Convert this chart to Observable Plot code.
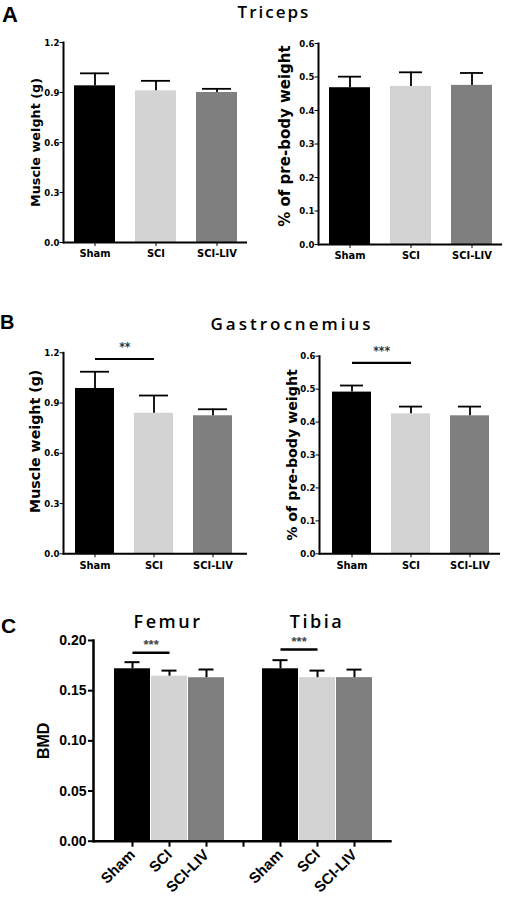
<!DOCTYPE html>
<html>
<head>
<meta charset="utf-8">
<script src="https://cdn.jsdelivr.net/npm/d3@7"></script>
<script src="https://cdn.jsdelivr.net/npm/@observablehq/plot@0.6"></script>
<style>
  html, body { margin: 0; padding: 0; background: #fff; }
  #root { position: relative; width: 506px; height: 899px; overflow: hidden; background: #fff; }
  .pos { position: absolute; }
  .letter { font-family: "Liberation Sans", Arial, sans-serif; font-weight: bold; line-height: 1; color: #000; }
  .title { font-family: "Open Sans", sans-serif; font-weight: 600; font-size: 17px; line-height: 1; letter-spacing: 2.5px; text-align: center; color: #000; white-space: nowrap; }
</style>
</head>
<body>
<div id="root"></div>
<script>
// ---------- data ----------
const categories = ["Sham", "SCI", "SCI-LIV"];
const barColors = ["#000000", "#d3d3d3", "#7f7f7f"];

const tricepsWeight = [0.94, 0.91, 0.90];
const tricepsWeightSem = [0.075, 0.06, 0.022];
const tricepsPct = [0.468, 0.472, 0.475];
const tricepsPctSem = [0.033, 0.042, 0.037];

const gastroWeight = [0.987, 0.839, 0.824];
const gastroWeightSem = [0.10, 0.106, 0.039];
const gastroPct = [0.491, 0.425, 0.419];
const gastroPctSem = [0.020, 0.022, 0.028];

const bones = ["Femur", "Tibia"];
const femurBMD = [0.1718, 0.1645, 0.1629];
const femurBMDSem = [0.0066, 0.0055, 0.0082];
const tibiaBMD = [0.1718, 0.163, 0.163];
const tibiaBMDSem = [0.0086, 0.007, 0.008];

const weightTicks = [0, 0.3, 0.6, 0.9, 1.2];
const pctTicks = [0, 0.1, 0.2, 0.3, 0.4, 0.5, 0.6];
const bmdTicks = [0, 0.05, 0.10, 0.15, 0.20];

const gastroWeightSig = [{from: "Sham", to: "SCI", y: 1.163, text: "**"}];
const gastroPctSig = [{from: "Sham", to: "SCI", y: 0.58, text: "***"}];
const femurSig = {from: "Sham", to: "SCI", y: 0.1878, text: "***"};
const tibiaSig = {from: "Sham", to: "SCI", y: 0.191, text: "***"};

// ---------- layout ----------
const root = document.getElementById("root");
const narrow = "'Liberation Sans Narrow', 'Arial Narrow', 'DejaVu Sans Condensed', sans-serif";
const arial = "'Liberation Sans', Arial, sans-serif";
const wide = "'DejaVu Sans', Verdana, sans-serif";

function addDiv(cls, text, style) {
  const d = document.createElement("div");
  d.className = "pos " + cls;
  d.textContent = text;
  Object.assign(d.style, style);
  root.appendChild(d);
}

function place(node, left, top) {
  node.style.position = "absolute";
  node.style.left = left + "px";
  node.style.top = top + "px";
  root.appendChild(node);
}

function musclePlot(cfg) {
  const data = categories.map((c, i) => ({c, v: cfg.values[i], e: cfg.values[i] + cfg.sems[i], color: barColors[i]}));
  const innerW = cfg.width - cfg.mL - cfg.mR;
  const step = innerW / (categories.length - cfg.pi + 2 * cfg.po);
  const marks = [
    Plot.barY(data, {x: "c", y: "v", fill: "color"}),
    Plot.ruleX(data, {x: "c", y1: "v", y2: "e", stroke: "#000", strokeWidth: 1.8}),
    Plot.tickY(data, {x: "c", y: "e", stroke: "#000", strokeWidth: 1.8, insetLeft: cfg.capInset, insetRight: cfg.capInset}),
    Plot.ruleY([0], {stroke: "#000", strokeWidth: 2}),
    Plot.frame({anchor: "left", stroke: "#000", strokeWidth: 2}),
    Plot.axisY({ticks: cfg.ticks, tickFormat: d3.format(".1f"), tickSize: 3.5, tickPadding: 0.5, fontSize: 9.5, fontWeight: "bold", fontFamily: narrow, label: null}),
    Plot.axisX({tickSize: 4, tickPadding: 3, fontSize: 11, fontWeight: "bold", fontFamily: narrow, label: null}),
    Plot.text([cfg.label], {frameAnchor: "left", textAnchor: "middle", lineAnchor: "middle", text: d => d, rotate: -90,
      dx: cfg.labelDx, dy: cfg.labelDy, fontSize: cfg.labelSize, fontWeight: "bold", fontFamily: wide, fill: "#000"})
  ];
  if (cfg.sig) {
    marks.push(Plot.link(cfg.sig, {x1: "from", x2: "to", y1: "y", y2: "y", stroke: "#000", strokeWidth: 2.2}));
    marks.push(Plot.text(cfg.sig, {x: "from", y: "y", text: "text", dx: step / 2, dy: -12, fontSize: 12, fontWeight: "bold", fontFamily: narrow, fill: "#333"}));
  }
  return Plot.plot({
    width: cfg.width, height: cfg.height,
    marginLeft: cfg.mL, marginRight: cfg.mR, marginTop: cfg.mT, marginBottom: cfg.mB,
    style: {background: "transparent", color: "#000", overflow: "visible"},
    x: {type: "band", domain: categories, paddingInner: cfg.pi, paddingOuter: cfg.po, align: cfg.align, axis: null},
    y: {domain: [0, cfg.max], axis: null},
    marks
  });
}

const musclePanels = [
  {left: 0, top: 30, width: 250, height: 250, mL: 63, mR: 3, mT: 12, mB: 38, values: tricepsWeight, sems: tricepsWeightSem,
   ticks: weightTicks, max: 1.2, label: "Muscle weight (g)", labelSize: 12.8, labelDx: -28, labelDy: 0, pi: 0.33, po: 0.165, align: 0.5, capInset: 6},
  {left: 250, top: 30, width: 256, height: 250, mL: 68, mR: 4, mT: 13, mB: 36, values: tricepsPct, sems: tricepsPctSem,
   ticks: pctTicks, max: 0.6, label: "% of pre-body weight", labelSize: 15, labelDx: -33, labelDy: -8, pi: 0.33, po: 0.165, align: 0.5, capInset: 9},
  {left: 0, top: 330, width: 250, height: 250, mL: 63, mR: 3, mT: 22.3, mB: 26.7, values: gastroWeight, sems: gastroWeightSem,
   ticks: weightTicks, max: 1.2, label: "Muscle weight (g)", labelSize: 14.2, labelDx: -28, labelDy: -12, pi: 0.34, po: 0.215, align: 0.43, capInset: 5, sig: gastroWeightSig},
  {left: 250, top: 330, width: 256, height: 250, mL: 69, mR: 6, mT: 25.7, mB: 26.7, values: gastroPct, sems: gastroPctSem,
   ticks: pctTicks, max: 0.6, label: "% of pre-body weight", labelSize: 14.2, labelDx: -27, labelDy: 0, pi: 0.337, po: 0.196, align: 0.55, capInset: 8, sig: gastroPctSig}
];

for (const cfg of musclePanels) place(musclePlot(cfg), cfg.left, cfg.top);

// ---------- panel C ----------
const gapKey = "gap";
const cDomain = [...categories.map(c => bones[0] + "|" + c), gapKey, ...categories.map(c => bones[1] + "|" + c)];
const bmdValues = [femurBMD, tibiaBMD];
const bmdSems = [femurBMDSem, tibiaBMDSem];
const cData = bones.flatMap((b, j) => categories.map((c, i) => ({
  key: b + "|" + c, v: bmdValues[j][i], e: bmdValues[j][i] + bmdSems[j][i], color: barColors[i]
})));
const cSig = [femurSig, tibiaSig].map((s, j) => ({from: bones[j] + "|" + s.from, to: bones[j] + "|" + s.to, y: s.y, text: s.text}));

const C = {left: 0, top: 620, width: 506, height: 279, mL: 93, mR: 114.3, mT: 20, mB: 58.3, pi: 0.04, po: 0.53};
const cStep = (C.width - C.mL - C.mR) / (cDomain.length - C.pi + 2 * C.po);

const plotC = Plot.plot({
  width: C.width, height: C.height,
  marginLeft: C.mL, marginRight: C.mR, marginTop: C.mT, marginBottom: C.mB,
  style: {background: "transparent", color: "#000", overflow: "visible"},
  x: {type: "band", domain: cDomain, paddingInner: C.pi, paddingOuter: C.po, axis: null},
  y: {domain: [0, 0.2], axis: null},
  marks: [
    Plot.barY(cData, {x: "key", y: "v", fill: "color"}),
    Plot.ruleX(cData, {x: "key", y1: "v", y2: "e", stroke: "#000", strokeWidth: 2}),
    Plot.tickY(cData, {x: "key", y: "e", stroke: "#000", strokeWidth: 2, insetLeft: 10.5, insetRight: 10.5}),
    Plot.ruleY([0], {stroke: "#000", strokeWidth: 2.5}),
    Plot.frame({anchor: "left", stroke: "#000", strokeWidth: 2.5}),
    Plot.axisY({ticks: bmdTicks, tickFormat: d3.format(".2f"), tickSize: 5, tickPadding: 2, fontSize: 14, fontWeight: "bold", fontFamily: arial, label: null, strokeWidth: 2}),
    Plot.axisX({tickSize: 6, tickPadding: 5, tickRotate: -45, fontSize: 15, fontWeight: "bold", fontFamily: arial, label: null, strokeWidth: 2,
      tickFormat: k => k === gapKey ? "" : k.split("|")[1]}),
    Plot.text(["BMD"], {frameAnchor: "left", textAnchor: "middle", lineAnchor: "middle", text: d => d, rotate: -90, dx: -50, fontSize: 16, fontWeight: "bold", fontFamily: arial, fill: "#000"}),
    Plot.link(cSig, {x1: "from", x2: "to", y1: "y", y2: "y", stroke: "#000", strokeWidth: 2.5}),
    Plot.text(cSig, {x: "from", y: "y", text: "text", dx: cStep / 2, dy: -8, fontSize: 13, fontWeight: "bold", fontFamily: arial, fill: "#444"})
  ]
});
place(plotC, C.left, C.top);

// ---------- titles & panel letters ----------
addDiv("letter", "A", {left: "2px", top: "4px", fontSize: "22px"});
addDiv("letter", "B", {left: "0px", top: "312px", fontSize: "20px"});
addDiv("letter", "C", {left: "1px", top: "615px", fontSize: "21px"});
addDiv("title", "Triceps", {left: "174px", width: "200px", top: "3px", letterSpacing: "2px"});
addDiv("title", "Gastrocnemius", {left: "192px", width: "200px", top: "315px", letterSpacing: "3px"});
addDiv("title", bones[0], {left: "118px", width: "100px", top: "612px", fontSize: "18px"});
addDiv("title", bones[1], {left: "267px", width: "100px", top: "612px", fontSize: "18px"});
</script>
</body>
</html>
